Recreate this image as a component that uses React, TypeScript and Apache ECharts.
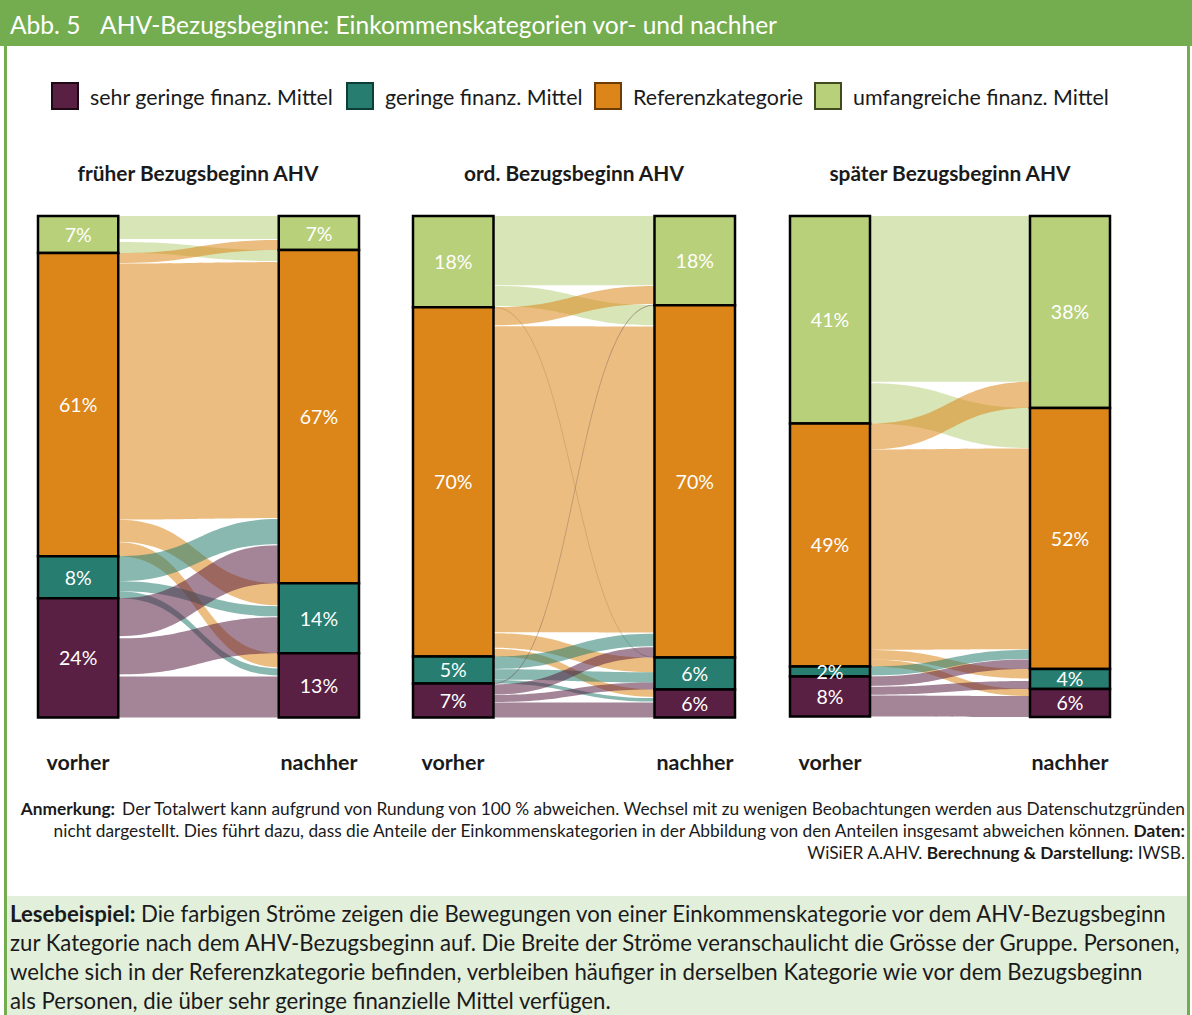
import React, { useEffect, useRef } from "react";
import * as echarts from "echarts";

// categories, index 0..3
const categories = [
  "sehr geringe finanz. Mittel",
  "geringe finanz. Mittel",
  "Referenzkategorie",
  "umfangreiche finanz. Mittel",
];
const stackOrder = [3, 2, 1, 0]; // top to bottom in each bar
const panelTitles = ["früher Bezugsbeginn AHV", "ord. Bezugsbeginn AHV", "später Bezugsbeginn AHV"];
const sideLabels = ["vorher", "nachher"];

// shares (%) per category [sehr gering, gering, Referenz, umfangreich]
const earlyBefore = [23.8, 8.4, 60.5, 7.4];
const earlyAfter = [12.8, 14.0, 66.5, 6.8];
const ordBefore = [6.8, 5.4, 69.7, 18.2];
const ordAfter = [5.6, 6.4, 70.3, 17.8];
const lateBefore = [8.0, 2.0, 48.5, 41.4];
const lateAfter = [5.6, 4.0, 52.1, 38.3];

// flows [from, to, share %]
const earlyFlows = [
  [3, 3, 4.6], [3, 2, 2.2],
  [2, 3, 2.0], [2, 2, 51.1], [2, 1, 4.4], [2, 0, 2.8],
  [1, 2, 5.0], [1, 1, 2.0], [1, 0, 1.4],
  [0, 2, 7.6], [0, 1, 7.2], [0, 0, 8.2],
];
const ordFlows = [
  [3, 3, 13.8], [3, 2, 4.0], [3, 1, 0.1],
  [2, 3, 3.6], [2, 2, 61.1], [2, 1, 2.9], [2, 0, 1.5],
  [1, 2, 2.5], [1, 1, 2.1], [1, 0, 0.7],
  [0, 3, 0.1], [0, 2, 2.0], [0, 1, 1.4], [0, 0, 3.0],
];
const lateFlows = [
  [3, 3, 33.1], [3, 2, 8.0],
  [2, 3, 5.2], [2, 2, 40.1], [2, 1, 1.9], [2, 0, 1.4],
  [1, 2, 1.8],
  [0, 2, 1.9], [0, 1, 1.6], [0, 0, 4.2],
];

const panels = [
  { before: earlyBefore, after: earlyAfter, flows: earlyFlows },
  { before: ordBefore, after: ordAfter, flows: ordFlows },
  { before: lateBefore, after: lateAfter, flows: lateFlows },
];

const catColors = ["#5A2044", "#267D70", "#DC861A", "#B8D07A"];
const legendBorders = ["#1E0814", "#0E3F37", "#6B3D05", "#3F4A1E"];
const GREEN = "#74AD4F";
const FAMILY = "Lato, 'Open Sans', sans-serif";

const footLines: [string, boolean][][] = [
  [["Anmerkung:", true], [" Der Totalwert kann aufgrund von Rundung von 100 % abweichen. Wechsel mit zu wenigen Beobachtungen werden aus Datenschutzgründen", false]],
  [["nicht dargestellt. Dies führt dazu, dass die Anteile der Einkommenskategorien in der Abbildung von den Anteilen insgesamt abweichen können. ", false], ["Daten:", true]],
  [["WiSiER A.AHV. ", false], ["Berechnung & Darstellung:", true], [" IWSB.", false]],
];
const readLines: [string, boolean][][] = [
  [["Lesebeispiel:", true], [" Die farbigen Ströme zeigen die Bewegungen von einer Einkommenskategorie vor dem AHV-Bezugsbeginn", false]],
  [["zur Kategorie nach dem AHV-Bezugsbeginn auf. Die Breite der Ströme veranschaulicht die Grösse der Gruppe. Personen,", false]],
  [["welche sich in der Referenzkategorie befinden, verbleiben häufiger in derselben Kategorie wie vor dem Bezugsbeginn", false]],
  [["als Personen, die über sehr geringe finanzielle Mittel verfügen.", false]],
];

function rgba(hex: string, a: number) {
  const n = parseInt(hex.slice(1), 16);
  return `rgba(${(n >> 16) & 255},${(n >> 8) & 255},${n & 255},${a})`;
}

let ctx: CanvasRenderingContext2D | null = null;
function measure(parts: [string, boolean][], size: number) {
  if (!ctx) ctx = document.createElement("canvas").getContext("2d");
  let w = 0;
  for (const [t, b] of parts) {
    ctx!.font = `${b ? "bold " : ""}${size}px ${FAMILY}`;
    w += ctx!.measureText(t).width;
  }
  return w;
}
function fit(parts: [string, boolean][], target: number) {
  return (100 * target) / measure(parts, 100);
}

function richText(parts: [string, boolean][]) {
  return parts.map(([t, b]) => `{${b ? "b" : "n"}|${t}}`).join("");
}

function buildPanel(p: any) {
  const bars: any[] = [];
  const pos: any = { L: {}, R: {} };
  [["L", p.before, 0, 1], ["R", p.after, 3, 4]].forEach(([side, vals, x0, x1]: any) => {
    let y = 0;
    for (const c of stackOrder) {
      bars.push({ value: [x0, x1, y, y + vals[c]], cat: c, label: Math.round(vals[c]) + "%" });
      pos[side][c] = [y, y + vals[c]];
      y += vals[c];
    }
  });
  const rank = (c: number) => stackOrder.indexOf(c);
  const flowPos: any[] = p.flows.map(() => ({}));
  const stackSide = (side: "L" | "R", keyOwn: number, keyOther: number) => {
    for (const c of stackOrder) {
      const idx = p.flows
        .map((f: any, i: number) => i)
        .filter((i: number) => p.flows[i][keyOwn] === c)
        .sort((a: number, b: number) => rank(p.flows[a][keyOther]) - rank(p.flows[b][keyOther]));
      const [top, bot] = pos[side][c];
      const total = idx.reduce((s: number, i: number) => s + p.flows[i][2], 0);
      const span = bot - top;
      const scale = total > span ? span / total : 1;
      const gap = total < span && idx.length > 1 ? (span - total) / (idx.length - 1) : 0;
      let y = top;
      for (const i of idx) {
        const h = p.flows[i][2] * scale;
        flowPos[i][side] = [y, y + h];
        y += h + gap;
      }
    }
  };
  stackSide("L", 0, 1);
  stackSide("R", 1, 0);
  const flows = p.flows.map((f: any, i: number) => ({
    value: [1, 3, flowPos[i].L[0], flowPos[i].L[1], flowPos[i].R[0], flowPos[i].R[1]],
    cat: f[0],
    tiny: f[2] < 0.5,
  }));
  return { bars, flows };
}

export default function App() {
  const ref = useRef<HTMLDivElement>(null);
  useEffect(() => {
    document.body.style.margin = "0";
    const chart = echarts.init(ref.current!, undefined, { renderer: "svg" });

    const grids = [
      { left: 38, top: 216, width: 321, height: 501 },
      { left: 413, top: 216, width: 322, height: 501 },
      { left: 790, top: 216, width: 320, height: 501 },
    ];

    const labelSize = fit([["5%", false]], 27);
    const titleSize = fit([["AHV-Bezugsbeginne: Einkommenskategorien vor- und nachher", false]], 678);
    const legendSize = fit([["umfangreiche finanz. Mittel", false]], 256);
    const panelTitleSize = fit([["früher Bezugsbeginn AHV", true]], 242);
    const sideSize = fit([["nachher", true]], 77);
    const footSize = fit(footLines[0], 1165);
    const readSize = fit(readLines[1], 1173);

    const series: any[] = [];
    panels.forEach((p, gi) => {
      const { bars, flows } = buildPanel(p);
      series.push({
        type: "custom",
        xAxisIndex: gi,
        yAxisIndex: gi,
        z: 1,
        silent: true,
        data: flows.map((f: any) => f.value),
        renderItem: (params: any, api: any) => {
          const f = flows[params.dataIndex];
          const a0 = api.coord([api.value(0), api.value(2)]);
          const a1 = api.coord([api.value(0), api.value(3)]);
          const b0 = api.coord([api.value(1), api.value(4)]);
          const b1 = api.coord([api.value(1), api.value(5)]);
          const xa = a0[0], xb = b0[0], xm = (xa + xb) / 2;
          const d = `M${xa},${a0[1]} C${xm},${a0[1]} ${xm},${b0[1]} ${xb},${b0[1]} L${xb},${b1[1]} C${xm},${b1[1]} ${xm},${a1[1]} ${xa},${a1[1]} Z`;
          return {
            type: "path",
            shape: { pathData: d },
            style: {
              fill: rgba(catColors[f.cat], 0.55),
              stroke: f.tiny ? "rgba(120,110,100,0.28)" : null,
              lineWidth: f.tiny ? 0.6 : 0,
            },
          };
        },
      });
      series.push({
        type: "custom",
        xAxisIndex: gi,
        yAxisIndex: gi,
        z: 3,
        silent: true,
        data: bars.map((b: any) => b.value),
        renderItem: (params: any, api: any) => {
          const b = bars[params.dataIndex];
          const p0 = api.coord([api.value(0), api.value(2)]);
          const p1 = api.coord([api.value(1), api.value(3)]);
          return {
            type: "group",
            children: [
              {
                type: "rect",
                shape: { x: p0[0], y: p0[1], width: p1[0] - p0[0], height: p1[1] - p0[1] },
                style: { fill: catColors[b.cat], stroke: "#000", lineWidth: 2.5 },
              },
              {
                type: "text",
                z2: 10,
                style: {
                  text: b.label,
                  x: (p0[0] + p1[0]) / 2,
                  y: (p0[1] + p1[1]) / 2,
                  align: "center",
                  verticalAlign: "middle",
                  fill: "#fff",
                  fontSize: labelSize,
                  fontFamily: FAMILY,
                },
              },
            ],
          };
        },
      });
    });

    const graphic: any[] = [];
    graphic.push({ type: "rect", shape: { x: 0, y: 0, width: 1192, height: 46 }, style: { fill: GREEN } });
    graphic.push({ type: "text", style: { text: "Abb. 5", x: 10, y: 24, verticalAlign: "middle", fill: "#fff", fontSize: titleSize, fontFamily: FAMILY } });
    graphic.push({ type: "text", style: { text: "AHV-Bezugsbeginne: Einkommenskategorien vor- und nachher", x: 100, y: 24, verticalAlign: "middle", fill: "#fff", fontSize: titleSize, fontFamily: FAMILY } });
    graphic.push({ type: "rect", shape: { x: 4, y: 46, width: 3, height: 969 }, style: { fill: GREEN } });
    graphic.push({ type: "rect", shape: { x: 1187, y: 46, width: 3, height: 969 }, style: { fill: GREEN } });
    graphic.push({ type: "rect", shape: { x: 7, y: 896, width: 1180, height: 119 }, style: { fill: "#E2EFDA" } });

    const legendX = [52, 347, 595, 815];
    categories.forEach((c, i) => {
      graphic.push({ type: "rect", shape: { x: legendX[i], y: 83, width: 26, height: 26 }, style: { fill: catColors[i], stroke: legendBorders[i], lineWidth: 2 } });
      graphic.push({ type: "text", style: { text: c, x: legendX[i] + 38, y: 97, verticalAlign: "middle", fill: "#1a1a1a", fontSize: legendSize, fontFamily: FAMILY } });
    });

    const titleX = [198, 574, 950];
    panelTitles.forEach((t, i) => {
      graphic.push({ type: "text", style: { text: t, x: titleX[i], y: 172, align: "center", verticalAlign: "middle", fill: "#1a1a1a", fontSize: panelTitleSize, fontWeight: "bold", fontFamily: FAMILY } });
      const g = grids[i];
      [g.left + 40, g.left + g.width - 40].forEach((cx, k) => {
        graphic.push({ type: "text", style: { text: sideLabels[k], x: cx, y: 762, align: "center", verticalAlign: "middle", fill: "#1a1a1a", fontSize: sideSize, fontWeight: "bold", fontFamily: FAMILY } });
      });
    });

    const rich = (size: number) => ({
      b: { fontWeight: "bold", fontSize: size, fontFamily: FAMILY, fill: "#1a1a1a" },
      n: { fontWeight: "normal", fontSize: size, fontFamily: FAMILY, fill: "#1a1a1a" },
    });
    footLines.forEach((parts, i) => {
      graphic.push({ type: "text", style: { text: richText(parts), rich: rich(footSize), x: 1185, y: 808 + i * 22, align: "right", verticalAlign: "middle", fontSize: footSize, fontFamily: FAMILY } });
    });
    readLines.forEach((parts, i) => {
      graphic.push({ type: "text", style: { text: richText(parts), rich: rich(readSize), x: 10, y: 913 + i * 29, align: "left", verticalAlign: "middle", fontSize: readSize, fontFamily: FAMILY } });
    });

    chart.setOption({
      animation: false,
      grid: grids,
      xAxis: grids.map((_, i) => ({ type: "value", gridIndex: i, min: 0, max: 4, show: false })),
      yAxis: grids.map((_, i) => ({ type: "value", gridIndex: i, min: 0, max: 100, inverse: true, show: false })),
      series,
      graphic,
    });
    return () => chart.dispose();
  }, []);
  return <div ref={ref} style={{ width: 1192, height: 1015 }} />;
}
